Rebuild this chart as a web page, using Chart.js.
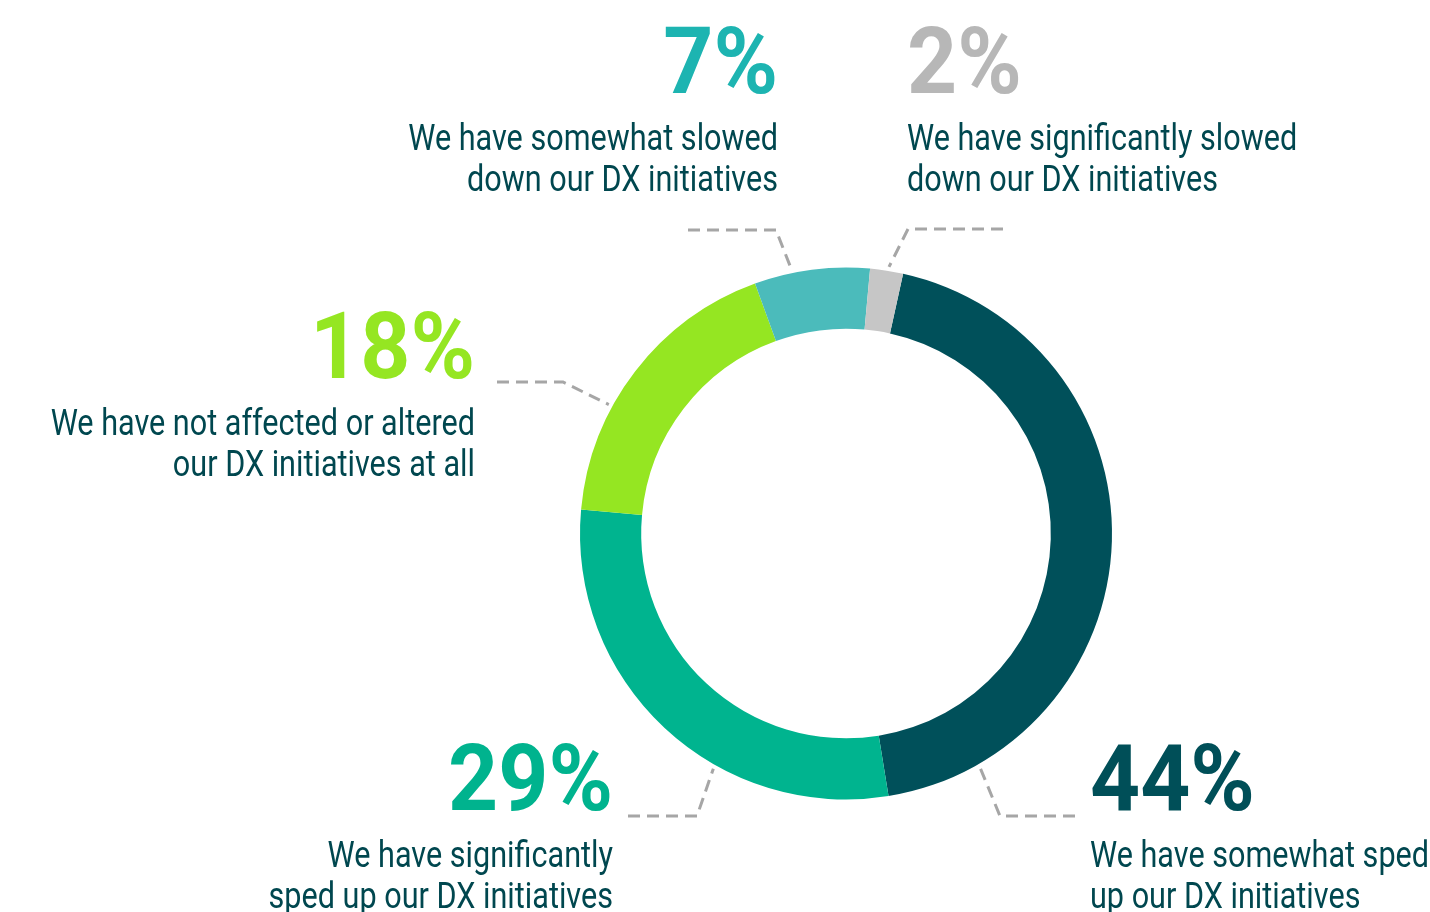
<!DOCTYPE html>
<html>
<head>
<meta charset="utf-8">
<script src="https://cdn.jsdelivr.net/npm/chart.js@4"></script>
<style>
  html, body { margin: 0; padding: 0; background: #fff; }
  #wrap { width: 1430px; height: 912px; position: relative; overflow: hidden; }
</style>
</head>
<body>
<div id="wrap"><canvas id="dxChart" width="1430" height="912"></canvas></div>
<script>
// data
const categories = [
    'We have somewhat sped up our DX initiatives',
    'We have significantly sped up our DX initiatives',
    'We have not affected or altered our DX initiatives at all',
    'We have somewhat slowed down our DX initiatives',
    'We have significantly slowed down our DX initiatives'
];
const shares = [44, 29, 18, 7, 2];
const captionLines = [
    ['We have somewhat sped', 'up our DX initiatives'],
    ['We have significantly', 'sped up our DX initiatives'],
    ['We have not affected or altered', 'our DX initiatives at all'],
    ['We have somewhat slowed', 'down our DX initiatives'],
    ['We have significantly slowed', 'down our DX initiatives']
];

const arcColors = ['#00505A', '#00B48F', '#95E622', '#4BBBBB', '#C6C6C6'];
const pctColors = ['#004F58', '#00B38E', '#95E622', '#1DB4B1', '#B7B7B7'];
const captionColor = '#00474F';

// label layout: where the leader touches the arc (fraction of the slice),
// the elbow and end of the leader, and the text block (relative to the canvas)
const labelLayout = [
    { frac: 0.87, elbow: [1000, 816], end: [1075, 816], x: 1090, y: 810, align: 'left' },
    { frac: 0.37, elbow: [697, 816],  end: [628, 816],  x: 613,  y: 810, align: 'right' },
    { frac: 0.36, elbow: [563, 382],  end: [497, 382],  x: 475,  y: 378, align: 'right' },
    { frac: 0.33, elbow: [776, 230],  end: [688, 230],  x: 778,  y: 93,  align: 'right' },
    { frac: 0.55, elbow: [908, 229],  end: [1003, 229], x: 907,  y: 93,  align: 'left' }
];

function drawText(ctx, text, x, y, align, font, color, sx) {
    ctx.save();
    ctx.translate(x, y);
    ctx.scale(sx, 1);
    ctx.font = font;
    ctx.fillStyle = color;
    ctx.textAlign = align;
    ctx.textBaseline = 'alphabetic';
    ctx.fillText(text, 0, 0);
    ctx.restore();
}

const calloutPlugin = {
    id: 'callouts',
    afterDraw(chart) {
        const ctx = chart.ctx;
        const meta = chart.getDatasetMeta(0);
        meta.data.forEach((arc, i) => {
            const lay = labelLayout[i];
            const a = arc.startAngle + (arc.endAngle - arc.startAngle) * lay.frac;
            const r = arc.outerRadius + 4;
            const sx = arc.x + r * Math.cos(a);
            const sy = arc.y + r * Math.sin(a);

            ctx.save();
            ctx.strokeStyle = '#A6A6A6';
            ctx.lineWidth = 3;
            ctx.setLineDash([12, 7]);
            ctx.beginPath();
            ctx.moveTo(lay.end[0], lay.end[1]);
            ctx.lineTo(lay.elbow[0], lay.elbow[1]);
            ctx.lineTo(sx, sy);
            ctx.stroke();
            ctx.restore();

            drawText(ctx, shares[i] + '%', lay.x, lay.y, lay.align,
                'bold 92px Roboto', pctColors[i], 0.95);
            captionLines[i].forEach((line, j) => {
                drawText(ctx, line, lay.x, lay.y + 57 + j * 41, lay.align,
                    '36px Roboto', captionColor, 0.85);
            });
        });
    }
};

const ctx = document.getElementById('dxChart').getContext('2d');
new Chart(ctx, {
    type: 'doughnut',
    data: {
        labels: categories,
        datasets: [{
            data: shares,
            backgroundColor: arcColors,
            borderWidth: 0
        }]
    },
    options: {
        responsive: false,
        animation: false,
        rotation: 12.4,
        cutout: '77%',
        layout: {
            padding: { left: 580, right: 318, top: 267, bottom: 112 }
        },
        plugins: {
            legend: { display: false },
            tooltip: { enabled: false }
        }
    },
    plugins: [calloutPlugin]
});
</script>
</body>
</html>
